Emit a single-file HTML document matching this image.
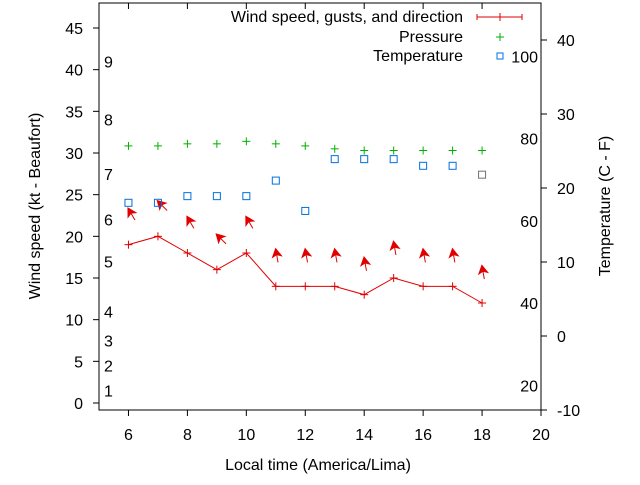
<!DOCTYPE html>
<html><head><meta charset="utf-8"><style>
body{margin:0;background:#fff}
svg text{font-family:"Liberation Sans",sans-serif;font-size:16px;fill:#000}
</style></head><body>
<svg id="chart" width="640" height="480" viewBox="0 0 640 480">
<g id="axes"></g>
<g id="marks"></g>
<g>
<text x="463" y="22" text-anchor="end">Wind speed, gusts, and direction</text>
<g stroke="#e00000" stroke-width="1">
<line x1="477" y1="17" x2="522" y2="17"/><line x1="477" y1="14" x2="477" y2="20"/><line x1="522" y1="14" x2="522" y2="20"/><line x1="500" y1="13" x2="500" y2="21"/></g>
<text x="463" y="42" text-anchor="end">Pressure</text>
<g stroke="#00b000"><line x1="496" y1="37" x2="504" y2="37"/><line x1="500" y1="33" x2="500" y2="41"/></g>
<text x="463" y="61" text-anchor="end">Temperature</text>
<rect x="497" y="53" width="6" height="6" fill="none" stroke="#0070e0"/>
</g>
<text x="318" y="470" text-anchor="middle">Local time (America/Lima)</text>
<text transform="translate(40,206) rotate(-90)" text-anchor="middle">Wind speed (kt - Beaufort)</text>
<text transform="translate(610,206) rotate(-90)" text-anchor="middle">Temperature (C - F)</text>
</svg>
<script>
const hours=[6,7,8,9,10,11,12,13,14,15,16,17,18];
const windKt=[19,20,18,16,18,14,14,14,13,15,14,14,12];
const gustKt=[23.3,24.2,22.3,20.2,22.3,18.4,18.4,18.4,17.4,19.3,18.4,18.4,16.4];
const windDirDeg=[150,135,150,135,150,170,170,170,170,170,170,170,170];
const pressure=[30.85,30.85,31.1,31.1,31.4,31.1,30.85,30.5,30.3,30.3,30.3,30.3,30.3];
const tempC=[18,18,18.9,18.9,18.9,21,16.9,23.9,23.9,23.9,23,23,21.8];
const xTicks=[6,8,10,12,14,16,18,20];
const yTicks=[0,5,10,15,20,25,30,35,40,45];
const y2Ticks=[-10,0,10,20,30,40];
const beaufort=[1,2,3,4,5,6,7,8,9];
const beaufortKt=[1.5,4.5,7.5,11,17,22,27.5,34,41];
const fahrenheit=[20,40,60,80,100];
const L=99,R=541,T=3,B=410;
const X=v=>L+(v-5)*(R-L)/15;
const Y=v=>403-v*375/45;
const Y2=v=>B-(v+10)*(B-T)/55;
const NS='http://www.w3.org/2000/svg';
function mk(p,tag,at){const e=document.createElementNS(NS,tag);for(const k in at)e.setAttribute(k,at[k]);p.appendChild(e);return e;}
const ax=document.getElementById('axes'),mg=document.getElementById('marks');
const frame=mk(ax,'rect',{x:L,y:T,width:R-L,height:B-T,fill:'none',stroke:'#000'});


xTicks.forEach(v=>{const t=mk(ax,'text',{x:X(v),y:440,'text-anchor':'middle'});t.textContent=v;


mk(ax,'line',{x1:X(v),y1:B,x2:X(v),y2:B+6,stroke:'#000'});mk(ax,'line',{x1:X(v),y1:T,x2:X(v),y2:T+6,stroke:'#000'});});
yTicks.forEach(v=>{const t=mk(ax,'text',{x:83,y:Y(v)+6,'text-anchor':'end'});t.textContent=v;


mk(ax,'line',{x1:L-6,y1:Y(v),x2:L,y2:Y(v),stroke:'#000'});});
y2Ticks.forEach(v=>{const t=mk(ax,'text',{x:557,y:Y2(v)+6});t.textContent=v;


mk(ax,'line',{x1:R,y1:Y2(v),x2:R+6,y2:Y2(v),stroke:'#000'});});
beaufort.forEach((b,i)=>{const t=mk(ax,'text',{x:104,y:Y(beaufortKt[i])+6});t.textContent=b;

});
fahrenheit.forEach(f=>{const c=(f-32)*5/9;const t=mk(ax,'text',{x:538,y:Y2(c)+6,'text-anchor':'end'});t.textContent=f;

});
const pl=mk(mg,'polyline',{points:hours.map((h,i)=>X(h)+','+Y(windKt[i])).join(' '),fill:'none',stroke:'#e00000'});


hours.forEach((h,i)=>{const x=X(h),y=Y(windKt[i]);
const g=mk(mg,'g',{stroke:'#e00000'});


mk(g,'line',{x1:x-4,y1:y,x2:x+4,y2:y});mk(g,'line',{x1:x,y1:y-4,x2:x,y2:y+4});
const gy=Y(gustKt[i]),a=windDirDeg[i]*Math.PI/180,dx=Math.sin(a),dy=-Math.cos(a);
const ar=mk(mg,'g',{});


mk(ar,'line',{x1:x+dx*13,y1:gy+dy*13,x2:x,y2:gy,stroke:'#e00000'});
const px=-dy,py=dx;
mk(ar,'polygon',{points:`${x-dx*1},${gy-dy*1} ${x+dx*7+px*4.5},${gy+dy*7+py*4.5} ${x+dx*5},${gy+dy*5} ${x+dx*7-px*4.5},${gy+dy*7-py*4.5}`,fill:'#e00000',stroke:'#e00000'});
const p=mk(mg,'g',{stroke:'#00b000'});


const yp=Y(pressure[i]);mk(p,'line',{x1:x-4,y1:yp,x2:x+4,y2:yp});mk(p,'line',{x1:x,y1:yp-4,x2:x,y2:yp+4});
const yt=Y2(tempC[i]);const r=mk(mg,'rect',{x:x-3.5,y:yt-3.5,width:7,height:7,fill:'none',stroke:i==hours.length-1?'#707070':'#0070e0'});


});
</script>
</body></html>
